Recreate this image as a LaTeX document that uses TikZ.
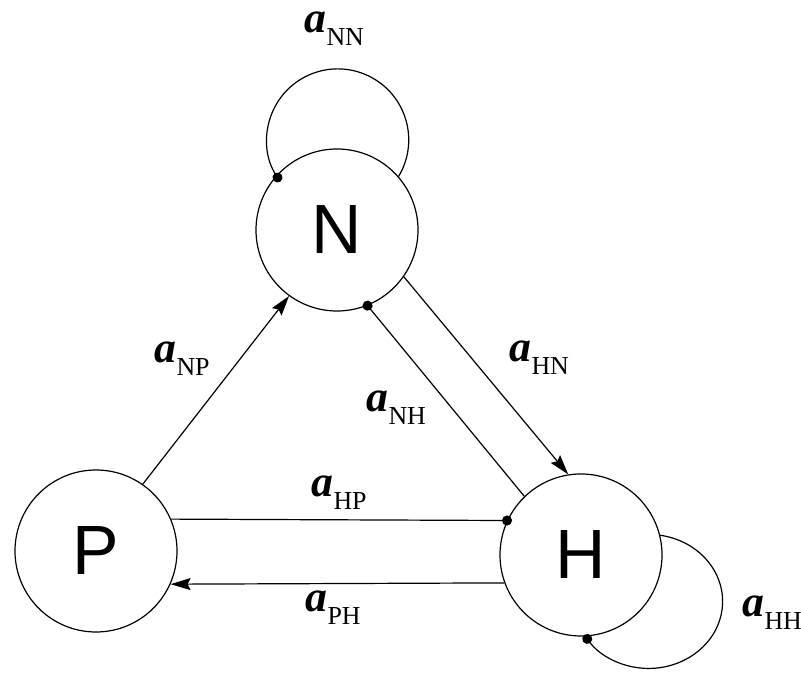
\documentclass[tikz,border=0pt]{standalone}
\usepackage{fontspec}
\setmainfont{Liberation Serif}
\newfontfamily\arialfont{Liberation Sans}
\usetikzlibrary{arrows.meta}
\newcommand{\coef}[1]{{\fontsize{22}{24}\selectfont\bfseries\itshape a}\raisebox{-6.5bp}{\fontsize{13}{15}\selectfont #1}}

\begin{document}
\begin{tikzpicture}[x=0.5bp, y=0.5bp, line width=0.6bp,
	state/.style={draw, circle, minimum size=81bp, inner sep=0pt, font=\arialfont\fontsize{35}{40}\selectfont},
	arr/.style={-{Stealth[length=10bp, width=6bp, inset=1.5bp]}},
	dotend/.style={-{Circle[length=5bp]}, shorten >=-2.5bp},
	coef/.style={anchor=base west, inner sep=0pt}]
	\useasboundingbox (0,0) rectangle (801,675);
	% states
	\node [state] (N) at (337,445) {N};
	\node [state] (P) at (96,124) {P};
	\node [state] (H) at (581,120) {H};
	% transitions
	\draw [arr] (P.55) -- (N.234);
	\draw [arr] (N.325) -- (H.99);
	\draw [dotend] (H.134) -- (N.292);
	\draw [dotend] (P.23) -- (H.155);
	\draw [arr] (H.200) -- (P.336);
	% self loops
	\draw [dotend] (N.41) arc [start angle=-31, end angle=212, radius=71];
	\draw [dotend] (H.14) arc [start angle=81, end angle=-146, x radius=74, y radius=67];
	% labels
	\node [coef] (lNN) at (304,642) {\coef{NN}};
	\node [coef] (lNP) at (154,312) {\coef{NP}};
	\node [coef] (lHN) at (509,313) {\coef{HN}};
	\node [coef] (lNH) at (366,263) {\coef{NH}};
	\node [coef] (lHP) at (311,178) {\coef{HP}};
	\node [coef] (lPH) at (305,63) {\coef{PH}};
	\node [coef] (lHH) at (742,58) {\coef{HH}};
\end{tikzpicture}
\end{document}
